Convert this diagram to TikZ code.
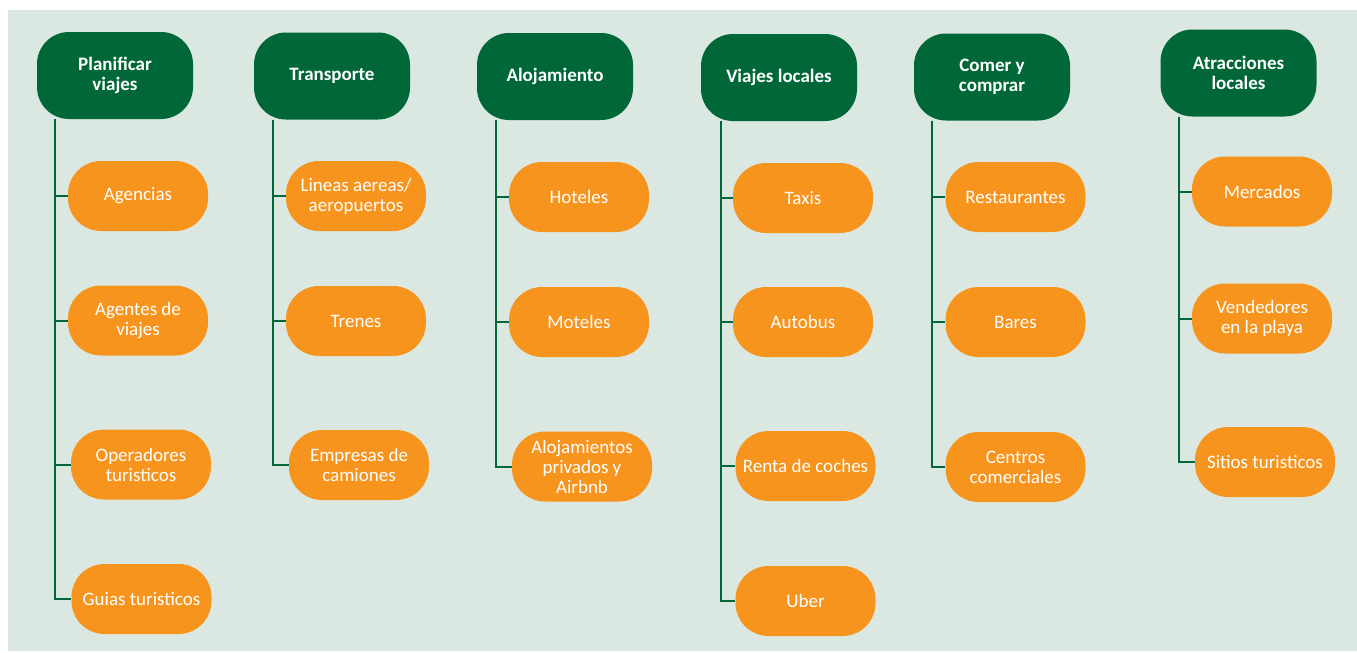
\documentclass[tikz,border=0pt]{standalone}
\usepackage{fontspec}
\setmainfont{Carlito}
\usepackage{xcolor}
\usepackage{tikz}
\usetikzlibrary{positioning}

\definecolor{hdrgreen}{RGB}{0,104,56}
\definecolor{boxorange}{RGB}{247,148,30}
\definecolor{bgmint}{RGB}{218,232,225}

\begin{document}
\begin{tikzpicture}[x=1pt, y=-1pt,
        hdr/.style={fill=hdrgreen, text=white, rounded corners=32pt, minimum width=156pt, minimum height=87pt, align=center, inner sep=2pt, font=\fontsize{19}{20}\selectfont\bfseries},
        item/.style={fill=boxorange, text=white, rounded corners=33pt, minimum width=140pt, minimum height=70pt, align=center, inner sep=2pt, font=\fontsize{19}{20}\selectfont},
        conn/.style={draw=hdrgreen, line width=2pt}
    ]
    \useasboundingbox (0,0) rectangle (1357,653);
    \fill[bgmint] (8,10) rectangle (1357,651);

    % --- Planificar viajes ---
    \node[hdr] (P) at (115,75.5) {Planificar\\viajes};
    \node[item] (P1) at (138,196) {Agencias};
    \node[item] (P2) at (138,320.5) {Agentes de\\viajes};
    \node[item] (P3) at (141,464.5) {Operadores\\turisticos};
    \node[item] (P4) at (141.5,599) {Guias turisticos};
    \foreach \c in {P1,P2,P3,P4}
        \draw[conn] ([xshift=18pt]P.south west) |- (\c.west);

    % --- Transporte ---
    \node[hdr] (T) at (332,76) {Transporte};
    \node[item] (T1) at (356,196) {Lineas aereas/\\aeropuertos};
    \node[item] (T2) at (356,321) {Trenes};
    \node[item] (T3) at (359,465) {Empresas de\\camiones};
    \foreach \c in {T1,T2,T3}
        \draw[conn] ([xshift=19pt]T.south west) |- (\c.west);

    % --- Alojamiento ---
    \node[hdr] (A) at (555,76.5) {Alojamiento};
    \node[item] (A1) at (579,197) {Hoteles};
    \node[item] (A2) at (579,322) {Moteles};
    \node[item] (A3) at (582,466.5) {Alojamientos\\privados y\\Airbnb};
    \foreach \c in {A1,A2,A3}
        \draw[conn] ([xshift=19pt]A.south west) |- (\c.west);

    % --- Viajes locales ---
    \node[hdr] (V) at (779,77.5) {Viajes locales};
    \node[item] (V1) at (803,198) {Taxis};
    \node[item] (V2) at (803,322) {Autobus};
    \node[item] (V3) at (805.5,466) {Renta de coches};
    \node[item] (V4) at (805.5,601) {Uber};
    \foreach \c in {V1,V2,V3,V4}
        \draw[conn] ([xshift=20pt]V.south west) |- (\c.west);

    % --- Comer y comprar ---
    \node[hdr] (C) at (992,77) {Comer y\\comprar};
    \node[item] (C1) at (1015.5,197) {Restaurantes};
    \node[item] (C2) at (1015.5,322) {Bares};
    \node[item] (C3) at (1015.5,467) {Centros\\comerciales};
    \foreach \c in {C1,C2,C3}
        \draw[conn] ([xshift=18pt]C.south west) |- (\c.west);

    % --- Atracciones locales ---
    \node[hdr] (L) at (1238.5,73) {Atracciones\\locales};
    \node[item] (L1) at (1262,191.5) {Mercados};
    \node[item] (L2) at (1262,318.5) {Vendedores\\en la playa};
    \node[item] (L3) at (1265,462) {Sitios turisticos};
    \foreach \c in {L1,L2,L3}
        \draw[conn] ([xshift=19pt]L.south west) |- (\c.west);

\end{tikzpicture}
\end{document}
